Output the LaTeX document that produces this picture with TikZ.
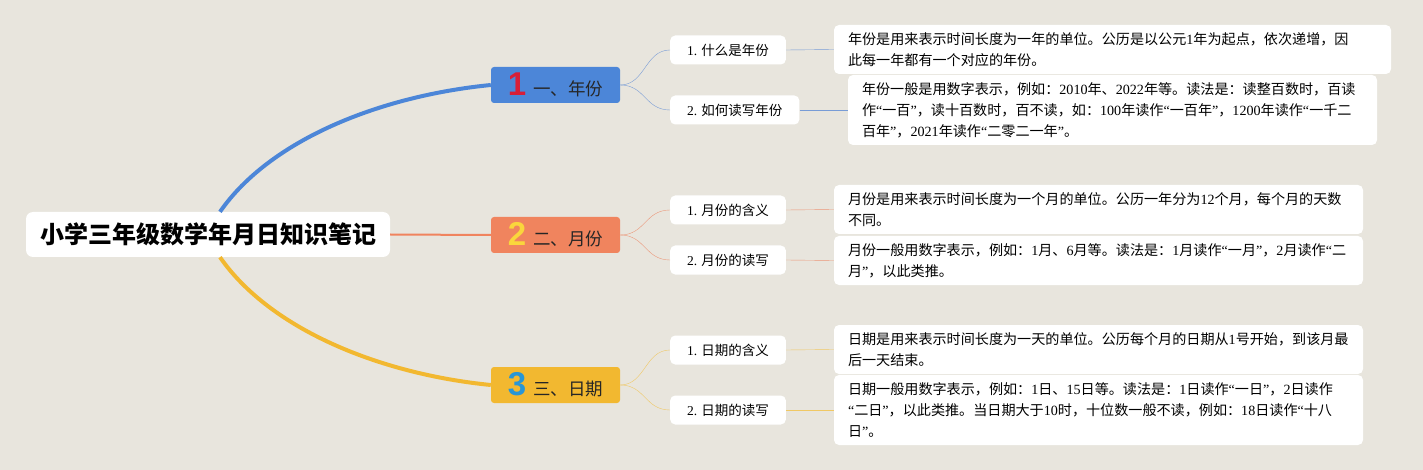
\documentclass[tikz,border=0pt]{standalone}
\usepackage{fontspec}
\setmainfont{Noto Sans CJK SC}
\newfontfamily\latn{Liberation Serif}
\newfontfamily\numfont{Liberation Sans}
\usetikzlibrary{positioning}
\definecolor{bgc}{RGB}{232,229,221}
\definecolor{bluebr}{RGB}{76,134,216}
\definecolor{orangebr}{RGB}{240,132,94}
\definecolor{yellowbr}{RGB}{242,184,48}
\definecolor{numred}{RGB}{216,30,56}
\definecolor{numyellow}{RGB}{250,214,60}
\definecolor{numblue}{RGB}{40,150,214}
\definecolor{bluethin}{RGB}{120,156,214}
\definecolor{orangethin}{RGB}{236,150,120}
\definecolor{yellowthin}{RGB}{240,200,100}
\newcommand\oq{{\latn “}}
\newcommand\cq{{\latn ”}}
\newcommand\dg[1]{{\latn #1}}
\newcommand\bignum[2]{\textcolor{#1}{\numfont\fontsize{33}{33}\selectfont\bfseries #2}\hspace{7pt}}

\begin{document}
\begin{tikzpicture}[x=1pt,y=-1pt,
  rootbox/.style={fill=white,rounded corners=7pt,minimum width=364pt,minimum height=45pt,
                  font=\fontsize{24}{26}\selectfont\bfseries},
  branchbox/.style={rounded corners=3pt,minimum width=129pt,minimum height=36pt,
                    font=\fontsize{17.5}{20}\selectfont,text=black!85},
  subbox/.style={fill=white,rounded corners=5pt,minimum height=29pt,inner xsep=17pt,
                 anchor=west,font=\fontsize{13.5}{16}\selectfont},
  descbox/.style={fill=white,rounded corners=5pt,inner xsep=14pt,align=left,
                  font=\fontsize{14.1}{21}\selectfont},
]
  % Background
  \fill[bgc] (0,0) rectangle (1423,470);
  % Root
  \node[rootbox] (root) at (208,234.5) {小学三年级数学年月日知识笔记};
  % Branches
  \node[branchbox,fill=bluebr] (b1) at (555.5,85) {\bignum{numred}{1}一、年份};
  \node[branchbox,fill=orangebr] (b2) at (555.5,235) {\bignum{numyellow}{2}二、月份};
  \node[branchbox,fill=yellowbr] (b3) at (555.5,385) {\bignum{numblue}{3}三、日期};
  % Sub topics
  \node[subbox] (s11) at (670,50) {\dg{1.} 什么是年份};
  \node[subbox] (s12) at (670,110) {\dg{2.} 如何读写年份};
  \node[subbox] (s21) at (670,210) {\dg{1.} 月份的含义};
  \node[subbox] (s22) at (670,260) {\dg{2.} 月份的读写};
  \node[subbox] (s31) at (670,350) {\dg{1.} 日期的含义};
  \node[subbox] (s32) at (670,410) {\dg{2.} 日期的读写};
  % Descriptions
  \node[descbox,text width=529pt,minimum height=49pt] (d11) at (1112.5,49.5)
    {年份是用来表示时间长度为一年的单位。公历是以公元\dg{1}年为起点，依次递增，因\\此每一年都有一个对应的年份。};
  \node[descbox,text width=501pt,minimum height=70pt] (d12) at (1112.5,110)
    {年份一般是用数字表示，例如：\dg{2010}年、\dg{2022}年等。读法是：读整百数时，百读\\
     作\oq 一百\cq ，读十百数时，百不读，如：\dg{100}年读作\oq 一百年\cq ，\dg{1200}年读作\oq 一千二\\
     百年\cq ，\dg{2021}年读作\oq 二零二一年\cq 。};
  \node[descbox,text width=501pt,minimum height=49pt] (d21) at (1098.5,209.5)
    {月份是用来表示时间长度为一个月的单位。公历一年分为\dg{12}个月，每个月的天数\\不同。};
  \node[descbox,text width=501pt,minimum height=49pt] (d22) at (1098.5,260.5)
    {月份一般用数字表示，例如：\dg{1}月、\dg{6}月等。读法是：\dg{1}月读作\oq 一月\cq ，\dg{2}月读作\oq 二\\月\cq ，以此类推。};
  \node[descbox,text width=501pt,minimum height=49pt] (d31) at (1098.5,349.5)
    {日期是用来表示时间长度为一天的单位。公历每个月的日期从\dg{1}号开始，到该月最\\后一天结束。};
  \node[descbox,text width=501pt,minimum height=70pt] (d32) at (1098.5,410)
    {日期一般用数字表示，例如：\dg{1}日、\dg{15}日等。读法是：\dg{1}日读作\oq 一日\cq ，\dg{2}日读作\\
     \oq 二日\cq ，以此类推。当日期大于\dg{10}时，十位数一般不读，例如：\dg{18}日读作\oq 十八\\
     日\cq 。};
  % Root to branches
  \draw[bluebr,line width=4pt] ([xshift=12pt]root.north) .. controls +(50,-72) and +(-111,11) .. (b1.west);
  \draw[orangebr,line width=2pt] (root.east) -- (b2.west);
  \draw[yellowbr,line width=4pt] ([xshift=12pt]root.south) .. controls +(50,72) and +(-111,-11) .. (b3.west);
  % Branches to sub topics
  \draw[bluethin] (b1.east) .. controls +(25,0) and +(-25,0) .. (s11.west);
  \draw[bluethin] (b1.east) .. controls +(25,0) and +(-25,0) .. (s12.west);
  \draw[orangethin] (b2.east) .. controls +(25,0) and +(-25,0) .. (s21.west);
  \draw[orangethin] (b2.east) .. controls +(25,0) and +(-25,0) .. (s22.west);
  \draw[yellowthin] (b3.east) .. controls +(25,0) and +(-25,0) .. (s31.west);
  \draw[yellowthin] (b3.east) .. controls +(25,0) and +(-25,0) .. (s32.west);
  % Sub topics to descriptions
  \draw[bluethin] (s11.east) -- (d11.west);
  \draw[bluethin] (s12.east) -- (d12.west);
  \draw[orangethin] (s21.east) -- (d21.west);
  \draw[orangethin] (s22.east) -- (d22.west);
  \draw[yellowthin] (s31.east) -- (d31.west);
  \draw[yellowthin] (s32.east) -- (d32.west);
\end{tikzpicture}
\end{document}
